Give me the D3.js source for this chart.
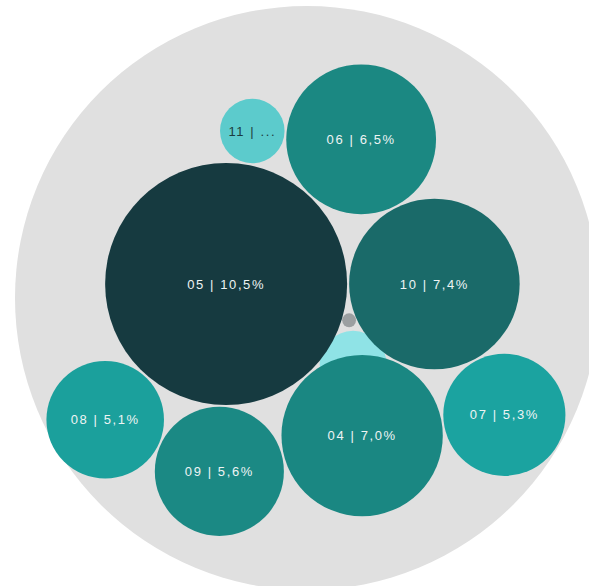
<!DOCTYPE html>
<html><head><meta charset="utf-8">
<script src="https://cdn.jsdelivr.net/npm/d3@7"></script>
<style>html,body{margin:0;padding:0;background:#fff;} svg{display:block}</style>
</head><body><svg id="chart" width="589" height="586"></svg>
<script>
// ---- data ----
const categories = ["05", "10", "04", "06", "09", "07", "08", "11"];
const shares = [10.5, 7.4, 7.0, 6.5, 5.6, 5.3, 5.1, 2.8];
// which two already-placed bubbles each bubble rests against (packing order)
const anchors = [null, ["05"], ["05", "10"], ["10", "05"], ["05", "04"], ["04", "10"], ["05", "09"], ["06", "05"]];
const fills = ["#163a40", "#1a6a69", "#1a8782", "#1b8882", "#1b8984", "#1ba3a0", "#1ba09c", "#5ccbcc"];
// small bubbles hidden in the central gap (no readable label)
const hiddenCategories = ["03", "02"];
const hiddenShares = [2.9, 0.6];
const hiddenFills = ["#8fe3e6", "#9b9fa1"];

// ---- layout ----
const W = 589, H = 586;
const frame = {cx: 307, cy: 298, r: 292};
const packCenter = [305, 333];
const pad = 2;
const svg = d3.select("#chart");

const rScale = d3.scaleLinear().domain([0, 10.5]).range([0, 121]);

const nodes = categories.map((c, i) => ({cat: c, value: shares[i], fill: fills[i], r: rScale(shares[i])}));
const byCat = new Map(nodes.map(n => [n.cat, n]));

function placeTangent(a, b, c) {
  const da = a.r + c.r + pad, db = b.r + c.r + pad;
  const ux0 = b.x - a.x, uy0 = b.y - a.y, d = Math.hypot(ux0, uy0);
  const ux = ux0 / d, uy = uy0 / d;
  const t = (d * d + da * da - db * db) / (2 * d);
  const h = Math.sqrt(Math.max(0, da * da - t * t));
  c.x = a.x + t * ux - h * uy;
  c.y = a.y + t * uy + h * ux;
}
nodes.forEach((n, i) => {
  const an = anchors[i];
  if (!an) { n.x = 0; n.y = 0; }
  else if (an.length === 1) { const a = byCat.get(an[0]); n.x = a.x + a.r + n.r + pad; n.y = a.y; }
  else placeTangent(byCat.get(an[0]), byCat.get(an[1]), n);
});
const enc = d3.packEnclose(nodes);
nodes.forEach(n => { n.x += packCenter[0] - enc.x; n.y += packCenter[1] - enc.y; });

svg.append("circle")
  .attr("cx", frame.cx).attr("cy", frame.cy).attr("r", frame.r)
  .attr("fill", "#e0e0e0");

// gap between the three largest bubbles
const big = nodes.slice(0, 3);
function tangentPoint(a, b) {
  const t = a.r / (a.r + b.r);
  return [a.x + (b.x - a.x) * t, a.y + (b.y - a.y) * t];
}
const tp = [tangentPoint(big[0], big[1]), tangentPoint(big[1], big[2]), tangentPoint(big[2], big[0])];
const gap = [d3.mean(tp, p => p[0]), d3.mean(tp, p => p[1])];
const hiddenOffsets = [[2, 24], [-2, -20]];
const hidden = hiddenCategories.map((c, i) => ({
  cat: c, x: gap[0] + hiddenOffsets[i][0], y: gap[1] + hiddenOffsets[i][1],
  r: rScale(hiddenShares[i]), fill: hiddenFills[i]
}));

svg.selectAll("circle.hidden").data(hidden).join("circle")
  .attr("class", "hidden")
  .attr("cx", d => d.x).attr("cy", d => d.y).attr("r", d => d.r)
  .attr("fill", d => d.fill);

svg.selectAll("circle.leaf").data(nodes).join("circle")
  .attr("class", "leaf")
  .attr("cx", d => d.x).attr("cy", d => d.y).attr("r", d => d.r)
  .attr("fill", d => d.fill);

const fmt = v => v.toFixed(1).replace(".", ",") + "%";
svg.selectAll("text.lbl").data(nodes).join("text")
  .attr("class", "lbl")
  .attr("x", d => d.x).attr("y", d => d.y)
  .attr("dy", "0.35em")
  .attr("text-anchor", "middle")
  .attr("font-family", "Liberation Sans, Arial, sans-serif")
  .attr("font-size", 13)
  .attr("letter-spacing", "1.6px")
  .attr("fill", d => d.r < 40 ? "#1c3c40" : "#eef4f4")
  .text(d => d.r < 40 ? d.cat + " | ..." : d.cat + " | " + fmt(d.value));
</script>
</body></html>
